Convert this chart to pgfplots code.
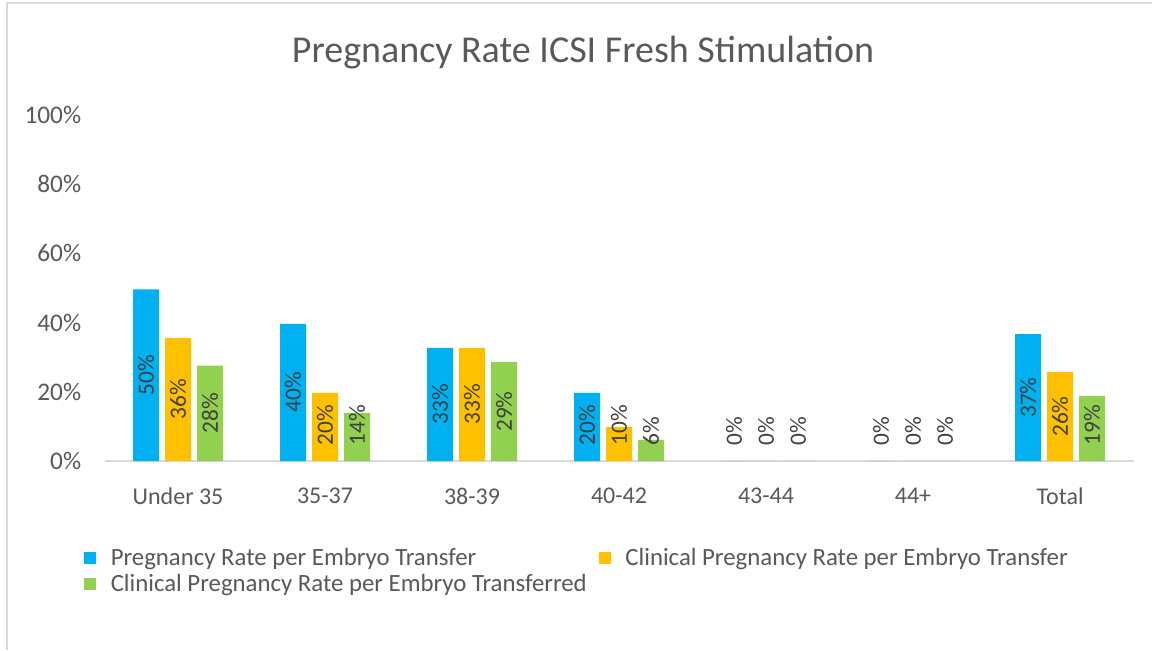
\documentclass[border=0pt]{standalone}
\usepackage{fontspec}
\setmainfont{Carlito}
\usepackage{pgfplots}
\pgfplotsset{compat=1.18}
\definecolor{cblue}{HTML}{00B0F0}
\definecolor{cyel}{HTML}{FFC000}
\definecolor{cgreen}{HTML}{92D050}
\definecolor{txt}{HTML}{595959}
\definecolor{lbl}{HTML}{404040}
\definecolor{axl}{HTML}{D9D9D9}
\begin{document}
\begin{tikzpicture}
\useasboundingbox (0,0) rectangle (864pt,487.5pt);
\draw[axl, line width=1.5pt] (5.6pt,0) -- (5.6pt,485pt) -- (870pt,485pt);
\begin{axis}[
  at={(78.4pt,141.75pt)}, anchor=south west,
  scale only axis, width=771.75pt, height=259.5pt,
  xmin=-0.5, xmax=6.5, ymin=0, ymax=100,
  ybar=4.5pt, bar width=19.5pt,
  xtick={0,...,6},
  xticklabels={Under 35,35-37,38-39,40-42,43-44,44+,Total},
  ytick={0,20,...,100},
  yticklabel={\pgfmathprintnumber{\tick}\%},
  /pgf/number format/assume math mode=true,
  major tick length=0pt,
  axis lines*=left,
  axis line style={-},
  y axis line style={draw=none},
  x axis line style={axl, line width=1.5pt},
  tick label style={font=\fontsize{18}{21}\selectfont, text=txt},
  yticklabel style={xshift=-14pt, font=\fontsize{19}{22}\selectfont},
  xticklabel style={yshift=-16.5pt},
  title={Pregnancy Rate ICSI Fresh Stimulation},
  title style={at={(0.465,1)}, anchor=center, yshift=41pt, font=\fontsize{28.5}{32}\selectfont, text=txt},
  visualization depends on={y \as \rawy},
  nodes near coords={\pgfmathprintnumber[fixed,precision=0]{\pgfplotspointmeta}\%},
  every node near coord/.append style={font=\fontsize{17.5}{20}\selectfont, text=lbl,
    yshift={(max(\rawy/2, ifthenelse(\rawy<9.5,8.6,10.4))-\rawy)*2.595pt}, rotate=90, anchor=center},
  legend columns=2,
  legend style={at={(-0.024,-0.237)}, anchor=north west, draw=none, row sep=1pt,
    font=\fontsize{18.6}{22}\selectfont, text=txt},
  legend image code/.code={\fill[#1] (0pt,-4.5pt) rectangle (9pt,4.5pt); \path (18pt,0pt);},
]
\addplot[fill=cblue, draw=none] coordinates {(0,49.6) (1,39.6) (2,32.7) (3,19.7) (4,0) (5,0) (6,36.7)};
\addlegendentry{\makebox[364pt][l]{Pregnancy Rate per Embryo Transfer}}
\addplot[fill=cyel, draw=none] coordinates {(0,35.6) (1,19.7) (2,32.7) (3,9.8) (4,0) (5,0) (6,25.7)};
\addlegendentry{Clinical Pregnancy Rate per Embryo Transfer}
\addplot[fill=cgreen, draw=none] coordinates {(0,27.6) (1,13.9) (2,28.6) (3,6.1) (4,0) (5,0) (6,18.8)};
\addlegendentry{\makebox[364pt][l]{Clinical Pregnancy Rate per Embryo Transferred}}
\end{axis}
\end{tikzpicture}
\end{document}
